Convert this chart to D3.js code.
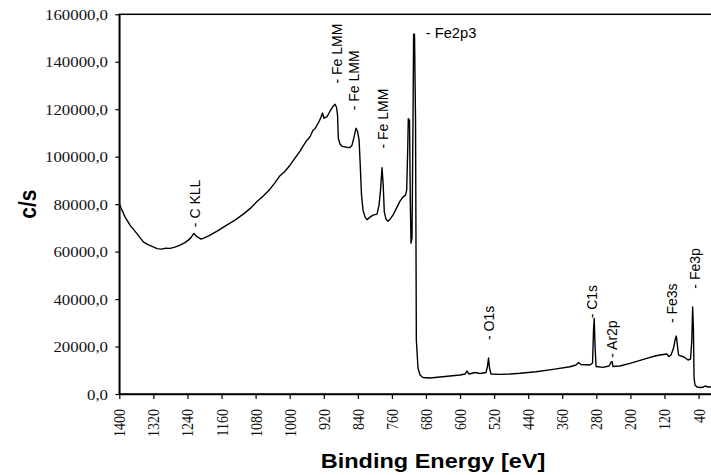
<!DOCTYPE html>
<html>
<head>
<meta charset="utf-8">
<script src="https://cdn.jsdelivr.net/npm/d3@7"></script>
<style>
  html, body { margin: 0; padding: 0; background: #fff; overflow: hidden; }
  svg { display: block; }
  .serif { font-family: "Liberation Serif", "Times New Roman", serif; }
  .sans { font-family: "Liberation Sans", Arial, sans-serif; }
</style>
</head>
<body>
<svg id="chart" width="711" height="475"></svg>
<script>
// XPS survey spectrum: binding energy (eV) and intensity (counts per second)
const energy = [
  1400, 1393.7, 1386.6, 1374.9, 1359.1, 1343.6, 1332.6, 1320.2, 1311.5, 1300.4,
  1292.7, 1281.0, 1269.2, 1257.5, 1245.8, 1238.0, 1231.6, 1225.1, 1217.6, 1208.2,
  1198.8, 1187.0, 1168.3, 1147.8, 1128.3, 1108.9, 1093.1, 1077.4, 1062.6, 1046.2,
  1034.4, 1022.7, 1010.9, 999.2, 987.5, 975.7, 968.7, 959.3, 952.3, 945.2,
  940.5, 935.9, 931.2, 926.5, 922.9, 919.4, 912.4, 905.3, 898.0, 893.5,
  890.0, 887.6, 885.8, 881.7, 877.1, 867.7, 858.3, 853.6, 848.9, 844.2,
  840.7, 837.0, 834.8, 831.3, 827.8, 823.0, 818.4, 811.3, 804.3, 794.9,
  790.2, 786.7, 783.1, 780.4, 777.8, 773.8, 769.1, 764.4, 757.4, 748.0,
  741.0, 734.0, 728.0, 725.3, 722.9, 721.5, 718.6, 716.8, 715.1, 712.8,
  710.4, 709.0, 706.9, 704.5, 702.6, 698.7, 694.0, 686.9, 670.5, 647.0,
  623.5, 600.0, 588.3, 583.6, 578.9, 564.8, 553.1, 539.0, 535.5, 533.1,
  530.8, 527.3, 506.0, 482.7, 459.2, 421.6, 381.7, 341.8, 327.7, 321.8,
  315.9, 294.8, 288.9, 286.6, 285.0, 283.1, 280.7, 264.3, 250.2, 245.0,
  243.1, 240.8, 224.8, 200.9, 161.7, 142.2, 130.4, 114.7, 109.3, 104.6,
  98.7, 95.2, 92.2, 89.8, 87.0, 81.1, 74.1, 64.7, 58.8, 55.8,
  53.9, 52.0, 50.6, 48.3, 43.6, 36.5, 29.5, 24.8, 17.8, 8.4, 0
];
const counts = [
  80200, 77470, 74650, 71160, 67660, 64130, 62950, 62020, 61260, 61050,
  61390, 61350, 61900, 62740, 63790, 64840, 65890, 67660, 66310, 65260,
  65890, 66950, 68840, 71160, 73260, 75790, 78100, 81050, 83370, 86310,
  89050, 92000, 93890, 96420, 99370, 102310, 104420, 106950, 108420, 111160,
  111790, 113260, 114740, 116630, 118440, 116210, 116840, 119160, 121260, 122100,
  120840, 117470, 107790, 105260, 104420, 104000, 103870, 104840, 108210, 112000,
  110740, 106950, 98530, 83790, 77470, 74530, 73470, 74530, 75370, 75790,
  79580, 85900, 95370, 88000, 76630, 73680, 72840, 73680, 75370, 78740,
  81260, 82950, 83790, 85900, 102740, 116000, 115370, 81680, 63580, 65680,
  115370, 151580, 151580, 115370, 22740, 10950, 8000, 6950, 6740, 7160,
  7580, 8000, 8420, 9680, 8420, 9050, 8630, 9050, 11790, 15160,
  10950, 8420, 8290, 8420, 8720, 9390, 10400, 11490, 12210, 13260,
  12420, 12210, 13050, 26950, 31790, 20630, 11580, 11240, 11790, 13470,
  13680, 11580, 11790, 12930, 15030, 16000, 16420, 16840, 15790, 16420,
  19370, 22740, 24420, 20630, 16420, 16000, 15580, 14320, 14740, 22740,
  36630, 26950, 6740, 3790, 2950, 2740, 2820, 3370, 2950, 2950, 2900
];

// Axis ticks
const xTicks = [1400, 1320, 1240, 1160, 1080, 1000, 920, 840, 760, 680, 600, 520, 440, 360, 280, 200, 120, 40];
const yTicks = [0, 20000, 40000, 60000, 80000, 100000, 120000, 140000, 160000];

// Peak annotations: text, anchor energy, anchor intensity, rotated?
const peakNames   = ["- C KLL", "- Fe LMM", "- Fe LMM", "- Fe LMM", "- Fe2p3", "- O1s", "- C1s", "- Ar2p", "- Fe3s", "- Fe3p"];
const peakEnergy  = [1222.3, 889.5, 848.5, 782.0, 680.6, 533.6, 292.0, 243.5, 102.0, 49.0];
const peakCounts  = [70310, 130820, 119580, 103450, 149900, 22740, 31870, 15300, 29900, 44400];
const peakRotated = [true, true, true, true, false, true, true, true, true, true];

const svg = d3.select("#chart");

const x = d3.scaleLinear().domain([1400, 0]).range([119.3, 715.6]);
const y = d3.scaleLinear().domain([0, 160000]).range([394, 14.3]);

// Plot area border
svg.append("rect")
  .attr("x", x(1400)).attr("y", y(160000))
  .attr("width", x(0) - x(1400)).attr("height", y(0) - y(160000))
  .attr("fill", "none").attr("stroke", "#000").attr("stroke-width", 1.5);

// Y axis
const yAxis = svg.append("g")
  .attr("transform", `translate(${x(1400)},0)`)
  .call(d3.axisLeft(y).tickValues(yTicks).tickSize(4).tickSizeOuter(0)
    .tickFormat(d => d.toFixed(1).replace(".", ",")));
yAxis.attr("font-family", null).attr("font-size", null);
yAxis.select(".domain").attr("stroke-width", 1.5);
yAxis.selectAll(".tick line").attr("stroke-width", 1.2);
yAxis.selectAll(".tick text")
  .attr("class", "serif")
  .attr("x", null).attr("dy", "0.34em")
  .attr("transform", "translate(-11.3,0) scale(1.12,1)")
  .style("font-size", "15px").attr("fill", "#111");

// X axis
const xAxis = svg.append("g")
  .attr("transform", `translate(0,${y(0)})`)
  .call(d3.axisBottom(x).tickValues(xTicks).tickSize(5).tickSizeOuter(0).tickFormat(d3.format("d")));
xAxis.attr("font-family", null).attr("font-size", null);
xAxis.select(".domain").attr("stroke-width", 1.5);
xAxis.selectAll(".tick line").attr("stroke-width", 1.2);
xAxis.selectAll(".tick text")
  .attr("class", "serif")
  .attr("y", null).attr("dy", "0.34em").attr("text-anchor", "end")
  .attr("transform", "translate(0,15) scale(1.15,1) rotate(-90)")
  .style("font-size", "14px").attr("fill", "#111");

// Spectrum line
const points = energy.map((e, i) => [e, counts[i]]);
svg.append("path")
  .datum(points)
  .attr("fill", "none").attr("stroke", "#000").attr("stroke-width", 1.4)
  .attr("stroke-linejoin", "round")
  .attr("d", d3.line().x(d => x(d[0])).y(d => y(d[1])));

// Peak labels
const labels = peakNames.map((t, i) => ({ t, e: peakEnergy[i], c: peakCounts[i], r: peakRotated[i] }));
svg.append("g").selectAll("text")
  .data(labels).join("text")
  .attr("class", "sans")
  .attr("transform", d => `translate(${x(d.e)},${y(d.c)}) scale(1.05,1)` + (d.r ? " rotate(-90)" : ""))
  .attr("dy", d => d.r ? "0.36em" : null)
  .attr("text-anchor", "start")
  .style("font-size", "14px").attr("fill", "#000")
  .text(d => d.t);

// Axis titles
svg.append("text")
  .attr("class", "sans")
  .attr("transform", "translate(433,467.7) scale(1.12,1)")
  .attr("text-anchor", "middle")
  .style("font-weight", "bold").style("font-size", "21px")
  .text("Binding Energy [eV]");

svg.append("text")
  .attr("class", "sans")
  .attr("transform", `translate(36,${(y(0) + y(160000)) / 2}) scale(1.12,1) rotate(-90)`)
  .attr("text-anchor", "middle")
  .style("font-weight", "bold").style("font-size", "21px")
  .text("c/s");
</script>
</body>
</html>
